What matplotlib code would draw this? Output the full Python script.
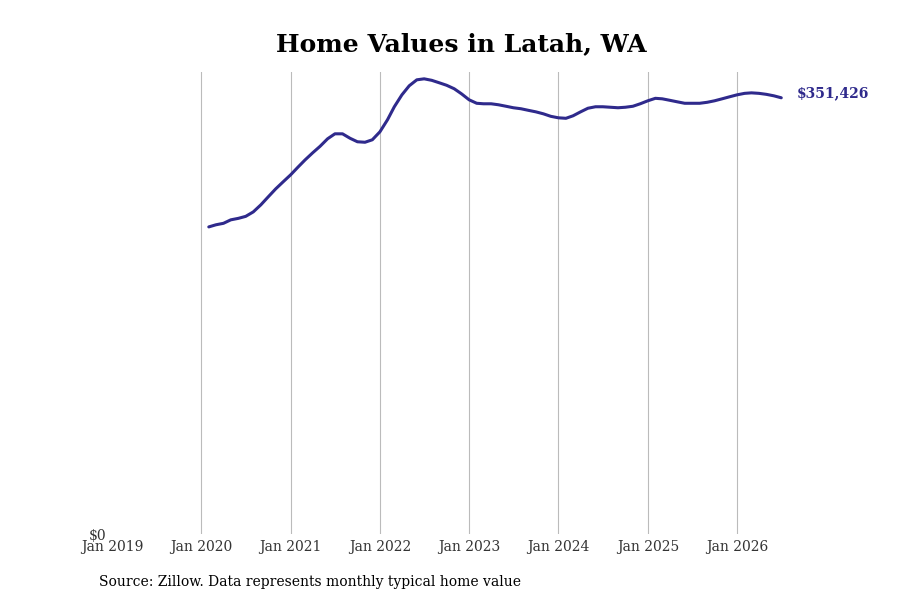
import numpy as np
import pandas as pd
import matplotlib
matplotlib.use('Agg')
import matplotlib.pyplot as plt
import matplotlib.dates as mdates

# monthly typical home value, Feb 2020 .. Jul 2026
start_month = '2020-02-01'
values = [
    247400, 249100, 250300, 253100, 254300, 255900, 259500, 265200, 271600, 278100, 283700,
    289400, 295800, 301400, 307100, 312300, 318400, 322400, 322400, 318800, 316000, 315600, 317600,
    324000, 333700, 344200, 353800, 361100, 365900, 366700, 365500, 363500, 361500, 358700, 354600,
    349800, 347000, 346600, 346600, 345800, 344600, 343400, 342600, 341300, 340100, 338500, 336500,
    335300, 334900, 336900, 340100, 343000, 344200, 344200, 343800, 343400, 343800, 344600, 346600,
    349000, 351000, 350600, 349400, 348200, 347000, 347000, 347000, 347800, 349000, 350600, 352200,
    353800, 355000, 355400, 355000, 354200, 353000, 351426,
]
dates = pd.date_range(start_month, periods=len(values), freq='MS')
tick_years = list(range(2019, 2027))
last_label = '$351,426'

line_color = '#2f2a8c'

plt.rcParams['font.family'] = 'DejaVu Serif'

fig = plt.figure(figsize=(9, 6), dpi=100)
ax = fig.add_axes([112 / 900, 66 / 600, (793 - 112) / 900, (534 - 72) / 600])

ax.plot(dates, values, color=line_color, linewidth=2.2, solid_capstyle='round')

ax.set_xlim(pd.Timestamp('2019-01-01'), pd.Timestamp('2026-08-18'))
ax.set_ylim(0, max(values) * 1.015)

ax.set_xticks([pd.Timestamp(f'{y}-01-01') for y in tick_years])
ax.xaxis.set_major_formatter(mdates.DateFormatter('%b %Y'))
ax.set_yticks([0])
ax.set_yticklabels(['$0'])

ax.tick_params(axis='x', length=0, pad=4, labelsize=10, labelcolor='#333333')
ax.tick_params(axis='y', length=0, pad=4, labelsize=10, labelcolor='#333333')

# vertical grid, but none on the first year
for y in tick_years[1:]:
    ax.axvline(pd.Timestamp(f'{y}-01-01'), color='#bbbbbb', linewidth=0.8, zorder=0)
for s in ax.spines.values():
    s.set_visible(False)

ax.annotate(last_label, xy=(dates[-1], values[-1]), xytext=(11, 3),
            textcoords='offset points', color=line_color, fontsize=10,
            fontweight='bold', va='center', ha='left', annotation_clip=False)

fig.text(461 / 900, 0.927, 'Home Values in Latah, WA', ha='center', va='center',
         fontsize=18, fontweight='bold')
fig.text(99 / 900, 1 - 582 / 600, 'Source: Zillow. Data represents monthly typical home value',
         ha='left', va='center', fontsize=10)

fig.savefig('out.png', dpi=100)
